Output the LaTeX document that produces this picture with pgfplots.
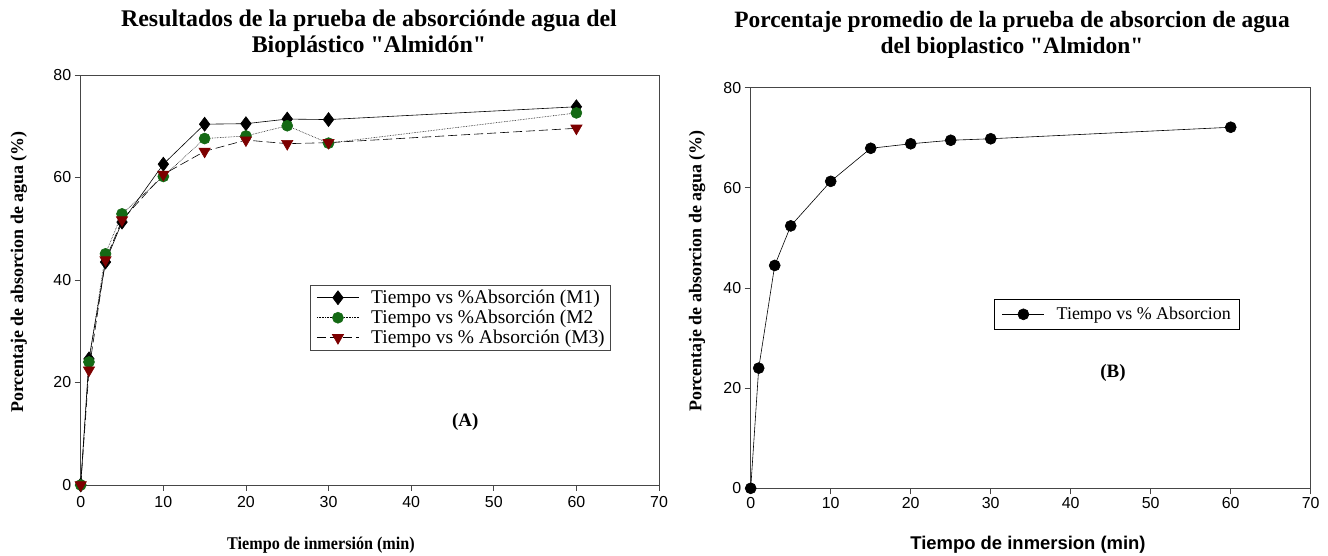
\documentclass[border=0pt]{standalone}
\usepackage{fontspec}
\setmainfont{Liberation Serif}[Ligatures=TeXOff]
\newfontfamily\arial{Liberation Sans}
\usepackage{pgfplots}
\pgfplotsset{compat=1.18}
\definecolor{mgreen}{RGB}{20,105,20}
\definecolor{mred}{RGB}{125,0,0}
\definecolor{axgray}{RGB}{70,70,70}
\begin{document}
\begin{tikzpicture}[x=1bp,y=1bp]
\useasboundingbox (0,0) rectangle (1328,556);
\pgfplotsset{
  myaxis/.style={
    scale only axis,
    xmin=0, xmax=70, ymin=0, ymax=80,
    xtick={0,10,...,70}, ytick={0,20,...,80},
    tick align=outside, tick pos=left,
    major tick length=6bp,
    axis line style={axgray, line width=0.8pt},
    every tick/.style={axgray, line width=0.8pt},
    tick label style={font=\arial\fontsize{16}{18}\selectfont},
    /pgf/number format/assume math mode=true,
    clip=false,
    legend cell align=left,
    legend image code/.code={%
      \path (-2bp,0bp) (52bp,0bp);
      \draw[mark repeat=2, mark phase=2, ##1] plot coordinates {(0bp,0bp) (21bp,0bp) (42bp,0bp)};},
  }
}
% ---------- left panel
\begin{axis}[myaxis, at={(80.7bp,71bp)}, anchor=south west, width=578.3bp, height=410bp,
  xticklabel style={yshift=-2bp},
  legend style={at={(rel axis cs:0.397,0.488)}, anchor=north west, draw=axgray, line width=0.7pt,
    font=\fontsize{19.5}{21}\selectfont, row sep=1bp, inner xsep=4bp, inner ysep=3bp},
]
\addplot[black, line width=0.6pt, mark=diamond*, mark size=7bp, mark options={solid, fill=black}]
 coordinates {(0,0)(1,24.6)(3,43.5)(5,51.3)(10,62.6)(15,70.4)(20,70.5)(25,71.4)(30,71.3)(60,73.8)};
\addlegendentry{Tiempo vs \%Absorción (M1)}
\addplot[black, densely dotted, line width=0.6pt, mark=*, mark size=5.5bp, mark options={solid, fill=mgreen, draw=mgreen}]
 coordinates {(0,0)(1,24.0)(3,45.1)(5,52.9)(10,60.2)(15,67.6)(20,68.1)(25,70.1)(30,66.7)(60,72.6)};
\addlegendentry{Tiempo vs \%Absorción (M2}
\addplot[black, dash pattern=on 9bp off 4bp, line width=0.6pt, mark=triangle*, mark size=6.5bp, mark options={solid, fill=mred, draw=mred, rotate=180}]
 coordinates {(0,0)(1,22.4)(3,43.9)(5,51.7)(10,60.6)(15,65.1)(20,67.3)(25,66.6)(30,66.8)(60,69.6)};
\addlegendentry{Tiempo vs \% Absorción (M3)}
\node[font=\bfseries\fontsize{19}{20}\selectfont] at (rel axis cs:0.665,0.154) {(A)};
\end{axis}
% ---------- right panel
\begin{axis}[myaxis, at={(750.7bp,67.7bp)}, anchor=south west, width=560bp, height=400.6bp,
  legend style={at={(rel axis cs:0.434,0.4725)}, anchor=north west, draw=black, line width=0.7pt,
    font=\fontsize{18}{20}\selectfont, inner xsep=6bp, inner ysep=6bp},
]
\addplot[black, line width=0.6pt, mark=*, mark size=5.5bp, mark options={fill=black}]
 coordinates {(0,0)(1,24.0)(3,44.5)(5,52.4)(10,61.3)(15,67.9)(20,68.8)(25,69.5)(30,69.8)(60,72.1)};
\addlegendentry{Tiempo vs \% Absorcion}
\node[font=\bfseries\fontsize{19}{20}\selectfont] at (rel axis cs:0.647,0.288) {(B)};
\end{axis}
% ---------- titles and labels
\node[font=\bfseries\fontsize{24}{26}\selectfont, align=center] at (369,522) {Resultados de la prueba de absorciónde agua del\\Bioplástico "Almidón"};
\node[font=\bfseries\fontsize{23.5}{26}\selectfont, align=center] at (1012,521) {Porcentaje promedio de la prueba de absorcion de agua\\del bioplastico "Almidon"};
\node[font=\bfseries\fontsize{18}{20}\selectfont] at (321,11) {\scalebox{0.9}[1]{Tiempo de inmersión (min)}};
\node[font=\arial\bfseries\fontsize{18.5}{20}\selectfont] at (1028,11) {Tiempo de inmersion (min)};
\node[font=\bfseries\fontsize{18}{20}\selectfont, rotate=90] at (19,284) {Porcentaje de absorcion de agua (\%)};
\node[font=\bfseries\fontsize{18}{20}\selectfont, rotate=90] at (697,285) {Porcentaje de absorcion de agua (\%)};
\end{tikzpicture}
\end{document}
